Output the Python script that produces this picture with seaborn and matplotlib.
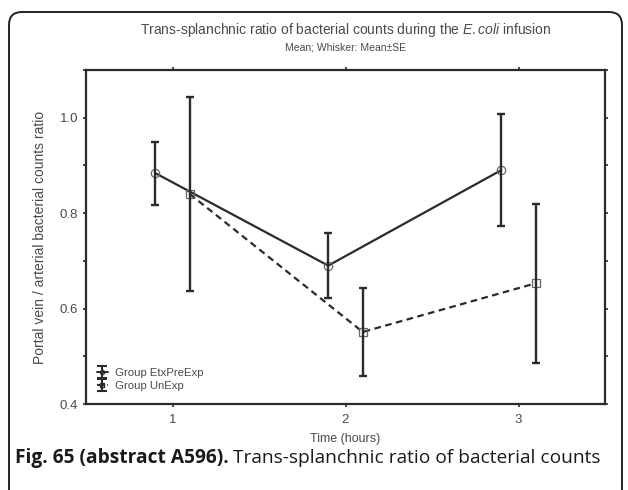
import matplotlib
matplotlib.use("Agg")
import matplotlib.pyplot as plt
import numpy as np
import pandas as pd
import seaborn as sns
from matplotlib.patches import FancyBboxPatch
from matplotlib.transforms import IdentityTransform
from matplotlib.ticker import MultipleLocator, FormatStrFormatter

TIME_HOURS = [1, 2, 3]
GROUPS = ["Group EtxPreExp", "Group UnExp"]
ETX_MEAN = [0.884, 0.690, 0.890]
ETX_SE = [0.066, 0.068, 0.117]
UNEXP_MEAN = [0.840, 0.551, 0.653]
UNEXP_SE = [0.204, 0.093, 0.167]

INK = "#2b2b2b"
TEXT = "#4a4a4a"


def build_frame() -> pd.DataFrame:
    rows = []
    for group, means, ses, shift in [
        (GROUPS[0], ETX_MEAN, ETX_SE, -0.1),
        (GROUPS[1], UNEXP_MEAN, UNEXP_SE, 0.1),
    ]:
        for t, m, s in zip(TIME_HOURS, means, ses):
            rows.append({"group": group, "time": t + shift, "mean": m, "se": s})
    return pd.DataFrame(rows)


def main() -> None:
    sns.set_style("ticks")
    plt.rcParams["font.family"] = ["Liberation Sans", "DejaVu Sans"]
    plt.rcParams["mathtext.fontset"] = "custom"
    plt.rcParams["mathtext.rm"] = "Liberation Sans"
    plt.rcParams["mathtext.it"] = "Liberation Sans:italic"

    df = build_frame()
    fig = plt.figure(figsize=(6.28, 4.90), dpi=100)
    ax = fig.add_axes([86 / 628, 1 - 404 / 490, (605 - 86) / 628, (404 - 70) / 490])

    sns.lineplot(
        data=df, x="time", y="mean", style="group", style_order=GROUPS,
        dashes={GROUPS[0]: "", GROUPS[1]: (3, 2)},
        markers={GROUPS[0]: "o", GROUPS[1]: "s"},
        color=INK, linewidth=1.6, markersize=6, markerfacecolor="none",
        markeredgecolor="#666666", markeredgewidth=0.9, legend=False, ax=ax,
    )

    handles = []
    for group, ls, mk in [(GROUPS[0], "-", "o"), (GROUPS[1], "--", "s")]:
        sub = df[df["group"] == group]
        ax.errorbar(sub["time"], sub["mean"], yerr=sub["se"], fmt="none",
                    ecolor=INK, elinewidth=1.7, capsize=3, capthick=1.7)
        h = ax.errorbar([np.nan], [np.nan], yerr=[np.nan], color=INK, ls=ls,
                        lw=1.4, marker=mk, ms=3, mfc="none", capsize=3.5,
                        capthick=1.5, elinewidth=1.5, label=group)
        handles.append(h)

    ax.set_xlim(0.5, 3.5)
    ax.set_ylim(0.4, 1.1)
    ax.set_xticks(TIME_HOURS)
    ax.yaxis.set_minor_locator(MultipleLocator(0.1))
    ax.set_yticks([0.4, 0.6, 0.8, 1.0])
    ax.yaxis.set_major_formatter(FormatStrFormatter("%.1f"))
    ax.tick_params(which="both", direction="out", length=2.5, width=1.2,
                   color=INK, labelsize=9.5, labelcolor=TEXT, pad=3,
                   top=True, right=True)
    ax.tick_params(axis="x", pad=5)
    for spine in ax.spines.values():
        spine.set_linewidth(1.6)
        spine.set_color(INK)

    ax.set_xlabel("Time (hours)", fontsize=9, color=TEXT, labelpad=5)
    ax.set_ylabel("Portal vein / arterial bacterial counts ratio", fontsize=10,
                  color=TEXT, labelpad=9)

    leg = ax.legend(handles=handles, labels=GROUPS, loc="lower left",
                    bbox_to_anchor=(0.005, 0.015), frameon=False, fontsize=8.2,
                    handlelength=1.0, handletextpad=0.6, labelspacing=0.25,
                    borderaxespad=0.3)
    for t in leg.get_texts():
        t.set_color(TEXT)

    fig.text(345.5 / 628, 1 - 30 / 490,
             r"Trans-splanchnic ratio of bacterial counts during the $\mathit{E.coli}$ infusion",
             ha="center", va="center", fontsize=10, color=TEXT)
    fig.text(345.5 / 628, 1 - 48 / 490, "Mean; Whisker: Mean\u00b1SE",
             ha="center", va="center", fontsize=7.5, color=TEXT)

    frame = FancyBboxPatch((9, -40), 613, 518,
                           boxstyle="round,pad=0,rounding_size=13",
                           transform=IdentityTransform(), facecolor="none",
                           edgecolor="#222222", linewidth=1.4, zorder=0)
    fig.patches.append(frame)

    bold = fig.text(15 / 628, 1 - 458 / 490, "Fig. 65 (abstract A596).",
                    fontsize=13.8, fontweight="bold", family="Open Sans",
                    color="#1a1a1a", va="center", ha="left")
    fig.canvas.draw()
    bb = bold.get_window_extent()
    fig.text((bb.x1 + 4) / 628, 1 - 458 / 490,
             "Trans-splanchnic ratio of bacterial counts",
             fontsize=13.8, family="Open Sans", color="#1a1a1a",
             va="center", ha="left")

    fig.savefig("out.png", dpi=100)
    plt.close(fig)


if __name__ == "__main__":
    main()
